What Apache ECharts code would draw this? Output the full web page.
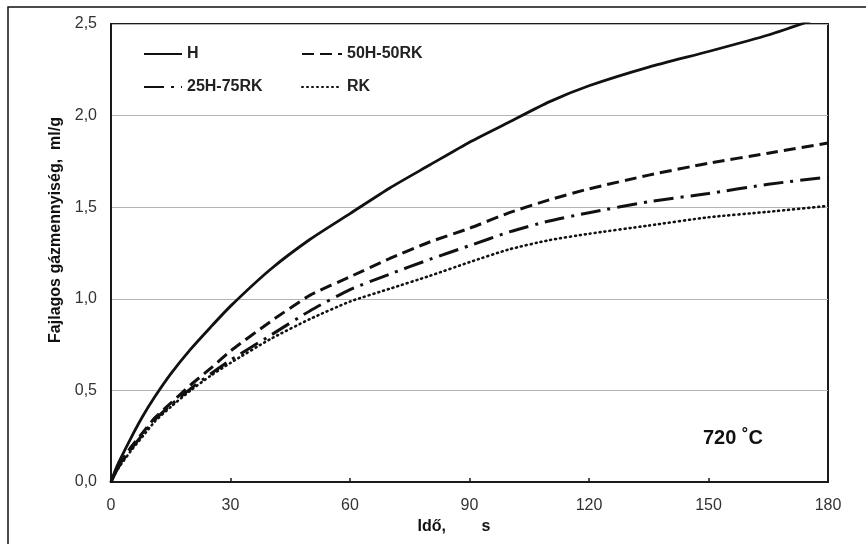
<!DOCTYPE html>
<html>
<head>
<meta charset="utf-8">
<script src="https://cdn.jsdelivr.net/npm/echarts@6/dist/echarts.min.js"></script>
<style>
html,body{margin:0;padding:0;background:#fff;}
#chart{width:866px;height:544px;}
</style>
</head>
<body>
<div id="chart"></div>
<script>
// ---- data ----
var times   = [0, 1, 2, 5, 8, 11, 15, 20, 25, 30, 40, 50, 60, 70, 80, 90, 100, 110, 120, 135, 150, 165, 180];
var hVals   = [0, 0.06, 0.11, 0.24, 0.36, 0.465, 0.59, 0.725, 0.845, 0.96, 1.16, 1.325, 1.465, 1.605, 1.73, 1.855, 1.965, 2.075, 2.163, 2.265, 2.35, 2.44, 2.55];
var h50Vals = [0, 0.05, 0.09, 0.19, 0.27, 0.35, 0.43, 0.53, 0.62, 0.715, 0.875, 1.02, 1.12, 1.22, 1.31, 1.385, 1.47, 1.54, 1.60, 1.675, 1.74, 1.795, 1.85];
var h25Vals = [0, 0.045, 0.085, 0.18, 0.26, 0.34, 0.42, 0.51, 0.59, 0.665, 0.80, 0.935, 1.05, 1.135, 1.215, 1.29, 1.365, 1.425, 1.47, 1.53, 1.575, 1.625, 1.665];
var rkVals  = [0, 0.045, 0.08, 0.17, 0.25, 0.33, 0.41, 0.50, 0.58, 0.65, 0.78, 0.89, 0.985, 1.055, 1.125, 1.20, 1.27, 1.32, 1.355, 1.40, 1.445, 1.475, 1.507];
var seriesNames = ['H', '50H-50RK', '25H-75RK', 'RK'];
var xTicks = [0, 30, 60, 90, 120, 150, 180];
var yTicks = [0, 0.5, 1.0, 1.5, 2.0, 2.5];
var xName = 'Idő,        s';
var yName = 'Fajlagos gázmennyiség,  ml/g';
var tempLabel = '720 ˚C';

function pairs(vals){ return times.map(function(t,i){ return [t, vals[i]]; }); }

var FONT = 'Liberation Sans, Arial, sans-serif';
var chart = echarts.init(document.getElementById('chart'));
var legendText = { fontFamily: FONT, fontSize: 16, fontWeight: 'bold', color: '#222' };
var option = {
  backgroundColor: '#fff',
  animation: false,
  grid: { left: 111, right: 38, top: 24, bottom: 62, show: true, borderColor: '#1a1a1a', borderWidth: 2, backgroundColor: 'transparent' },
  graphic: [
    { type: 'rect', shape: { x: 8, y: 7, width: 900, height: 600 }, style: { fill: 'none', stroke: '#111', lineWidth: 1.5 }, silent: true, z: 0 }
  ],
  title: {
    text: tempLabel, left: 698, top: 423,
    textStyle: { fontFamily: FONT, fontSize: 20, fontWeight: 'bold', color: '#111' }
  },
  legend: [
    { data: [seriesNames[0], seriesNames[2]], orient: 'vertical', left: 138, top: 41, itemWidth: 38, itemHeight: 16, itemGap: 17,
      itemStyle: { opacity: 0, borderWidth: 0 }, textStyle: legendText },
    { data: [seriesNames[1], seriesNames[3]], orient: 'vertical', left: 296, top: 41, itemWidth: 40, itemHeight: 16, itemGap: 17,
      itemStyle: { opacity: 0, borderWidth: 0 }, textStyle: legendText }
  ],
  xAxis: {
    type: 'value', min: 0, max: 180, interval: 30,
    name: xName, nameLocation: 'middle', nameGap: 35,
    nameTextStyle: { fontFamily: FONT, fontSize: 16, fontWeight: 'bold', color: '#111', padding: [0, 31, 0, 0] },
    axisLine: { show: true, lineStyle: { color: '#1a1a1a', width: 2 } },
    axisTick: { show: true, inside: true, length: 4, lineStyle: { color: '#1a1a1a', width: 1.5 } },
    axisLabel: { fontFamily: FONT, fontSize: 16, color: '#333', margin: 16 },
    splitLine: { show: false }
  },
  yAxis: {
    type: 'value', min: 0, max: 2.5, interval: 0.5,
    name: yName, nameLocation: 'middle', nameGap: 36,
    nameTextStyle: { fontFamily: FONT, fontSize: 16, fontWeight: 'bold', color: '#111', padding: [0, 0, 0, 46] },
    axisLine: { show: true, lineStyle: { color: '#1a1a1a', width: 2 } },
    axisTick: { show: false },
    axisLabel: { fontFamily: FONT, fontSize: 16, color: '#333', margin: 14,
      formatter: function(v){ return v.toFixed(1).replace('.', ','); } },
    splitLine: { show: true, lineStyle: { color: '#b4b4b4', width: 1.2 } }
  },
  series: [
    { name: seriesNames[0], type: 'line', data: pairs(hVals), symbol: 'none', smooth: 0.2, clip: true,
      lineStyle: { color: '#111', width: 2.8 }, itemStyle: { color: '#111', opacity: 0 } },
    { name: seriesNames[1], type: 'line', data: pairs(h50Vals), symbol: 'none', smooth: 0.2, clip: true,
      lineStyle: { color: '#111', width: 3, type: [12, 6] }, itemStyle: { color: '#111', opacity: 0 } },
    { name: seriesNames[2], type: 'line', data: pairs(h25Vals), symbol: 'none', smooth: 0.2, clip: true,
      lineStyle: { color: '#111', width: 3, type: [20, 7, 3, 7] }, itemStyle: { color: '#111', opacity: 0 } },
    { name: seriesNames[3], type: 'line', data: pairs(rkVals), symbol: 'none', smooth: 0.2, clip: true,
      lineStyle: { color: '#111', width: 2.6, type: [1, 4], cap: 'round' }, itemStyle: { color: '#111', opacity: 0 } }
  ]
};
chart.setOption(option);
</script>
</body>
</html>
